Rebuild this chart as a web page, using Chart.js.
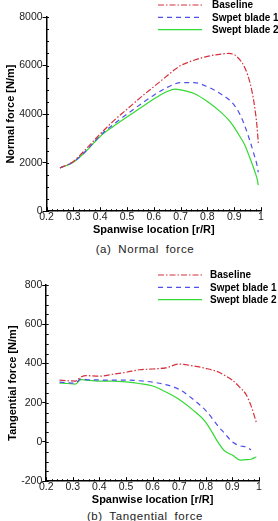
<!DOCTYPE html>
<html>
<head>
<meta charset="utf-8">
<script src="https://cdn.jsdelivr.net/npm/chart.js@4.4.1/dist/chart.umd.min.js"></script>
<style>
  body { margin: 0; background: #fff; width: 278px; height: 521px; overflow: hidden; position: relative; }
  .box { position: absolute; left: 0; width: 278px; }
  .caption { position: absolute; left: 0; width: 290px; text-align: center; font-family: "Liberation Sans", Arial, sans-serif;
             font-size: 11.5px; letter-spacing: 0.6px; word-spacing: 3px; color: #222; }
</style>
</head>
<body>
<div class="box" style="top:0;height:237px"><canvas id="normalChart"></canvas></div>
<div class="caption" style="top:243px">(a) Normal force</div>
<div class="box" style="top:262px;height:245px"><canvas id="tangentialChart"></canvas></div>
<div class="caption" style="top:510px">(b) Tangential force</div>
<script>
// series labels (legend text kept as printed in the figure)
const seriesNames = ['Baseline', 'Swpet blade 1', 'Swept blade 2'];

// (a) normal force [N/m] vs r/R
const normalX = [0.25, 0.3, 0.35, 0.4, 0.45, 0.5, 0.55, 0.6, 0.65, 0.68, 0.7, 0.75, 0.8, 0.85, 0.88, 0.9, 0.92, 0.94, 0.96, 0.975, 0.985, 0.99];
const normalBaseline = [1780, 2050, 2600, 3180, 3720, 4200, 4680, 5130, 5580, 5850, 6000, 6220, 6380, 6470, 6500, 6450, 6250, 5900, 5250, 4400, 3500, 2800];
const normalSwept1 = [1780, 2030, 2520, 3120, 3580, 4000, 4400, 4780, 5100, 5250, 5300, 5300, 5130, 4830, 4600, 4370, 4020, 3500, 2850, 2300, 1900, 1600];
const normalSwept2 = [1780, 2020, 2500, 3080, 3500, 3880, 4250, 4620, 4930, 5030, 5000, 4850, 4520, 4080, 3750, 3450, 3100, 2720, 2150, 1700, 1350, 1070];
const normalYTicks = [0, 2000, 4000, 6000, 8000];

// (b) tangential force [N/m] vs r/R
const tangX = [0.25, 0.28, 0.31, 0.33, 0.35, 0.4, 0.45, 0.5, 0.55, 0.6, 0.65, 0.7, 0.75, 0.8, 0.85, 0.87, 0.9, 0.93, 0.95, 0.97, 0.99];
const tangBaseline = [315, 312, 310, 330, 338, 335, 345, 355, 368, 372, 378, 397, 388, 375, 355, 340, 315, 275, 245, 185, 100];
const tangSwept1 = [305, 302, 300, 322, 318, 316, 315, 315, 312, 305, 292, 268, 220, 160, 75, 45, 0, -20, -25, -40, null];
const tangSwept2 = [300, 298, 295, 318, 315, 310, 310, 306, 298, 285, 255, 217, 165, 100, -10, -45, -67, -93, -90, -88, -75];
const tangYTicks = [-200, 0, 200, 400, 600, 800];

const xTicks = [0.2, 0.3, 0.4, 0.5, 0.6, 0.7, 0.8, 0.9, 1];

const styles = [
    { color: 'rgb(214,48,60)', dash: [6, 2, 1.5, 2] },
    { color: 'rgb(80,80,235)', dash: [5, 4] },
    { color: 'rgb(50,218,50)', dash: [] }
];

function makeSets(xs, seriesList) {
    return seriesList.map((vals, i) => ({
        label: seriesNames[i],
        data: xs.map((x, j) => ({ x: x, y: vals[j] })),
        borderColor: styles[i].color,
        borderDash: styles[i].dash,
        borderWidth: 1.2,
        pointRadius: 0,
        cubicInterpolationMode: 'monotone',
        fill: false
    }));
}

// legend in the upper right corner + minor tick marks
const extras = {
    id: 'extras',
    afterDraw(chart, args, opts) {
        const ctx = chart.ctx;
        const xs = chart.scales.x, ys = chart.scales.y;
        ctx.save();
        ctx.strokeStyle = '#000';
        ctx.lineWidth = 1;
        // x ticks, pointing into the plot
        for (let k = 0; k <= 40; k++) {
            const v = 0.2 + k * 0.02;
            const px = Math.round(xs.getPixelForValue(v)) + 0.5;
            const len = k % 5 === 0 ? 4 : 2;
            ctx.beginPath();
            ctx.moveTo(px, ys.bottom);
            ctx.lineTo(px, ys.bottom - len);
            ctx.stroke();
        }
        // y minor ticks
        for (let v = ys.min; v <= ys.max; v += opts.minorY) {
            const py = Math.round(ys.getPixelForValue(v)) + 0.5;
            ctx.beginPath();
            ctx.moveTo(xs.left, py);
            ctx.lineTo(xs.left + 2.5, py);
            ctx.stroke();
        }
        // legend
        ctx.font = 'bold 10px "Liberation Sans", Arial, sans-serif';
        ctx.textBaseline = 'middle';
        ctx.fillStyle = '#000';
        chart.data.datasets.forEach((ds, i) => {
            const y = opts.legendY + i * 12.3;
            ctx.beginPath();
            ctx.strokeStyle = ds.borderColor;
            ctx.lineWidth = 1.2;
            ctx.setLineDash(ds.borderDash);
            ctx.moveTo(158, y);
            ctx.lineTo(202, y);
            ctx.stroke();
            ctx.setLineDash([]);
            ctx.fillText(ds.label, opts.legendX, y + 0.5);
        });
        ctx.restore();
    }
};

function makeChart(id, xs, seriesList, yTicks, yTitle, minorY, legendY, legendX, pad) {
    const ctx = document.getElementById(id).getContext('2d');
    return new Chart(ctx, {
        type: 'line',
        data: { datasets: makeSets(xs, seriesList) },
        plugins: [extras],
        options: {
            responsive: true,
            maintainAspectRatio: false,
            animation: false,
            layout: { padding: pad },
            plugins: {
                legend: { display: false },
                tooltip: { enabled: false },
                extras: { minorY: minorY, legendY: legendY, legendX: legendX }
            },
            scales: {
                x: {
                    type: 'linear',
                    min: 0.2,
                    max: 1,
                    afterBuildTicks: axis => { axis.ticks = xTicks.map(v => ({ value: v })); },
                    ticks: {
                        autoSkip: false,
                        maxRotation: 0,
                        padding: 0,
                        color: '#222',
                        font: { family: '"Liberation Sans", Arial, sans-serif', size: 10.5 },
                        callback: v => v === 1 ? '1' : v.toFixed(1)
                    },
                    grid: { display: false, drawTicks: false },
                    border: { display: true, color: '#000', width: 1.5 },
                    title: {
                        display: true,
                        text: 'Spanwise location [r/R]',
                        color: '#000',
                        padding: { top: 0, bottom: 0 },
                        font: { family: '"Liberation Sans", Arial, sans-serif', size: 11, weight: 'bold' }
                    }
                },
                y: {
                    min: yTicks[0],
                    max: yTicks[yTicks.length - 1],
                    afterBuildTicks: axis => { axis.ticks = yTicks.map(v => ({ value: v })); },
                    ticks: {
                        padding: 0,
                        color: '#222',
                        font: { family: '"Liberation Sans", Arial, sans-serif', size: 10.5 },
                        callback: v => String(v)
                    },
                    grid: { display: true, drawOnChartArea: false, tickLength: 4, color: '#000', tickWidth: 1 },
                    border: { display: true, color: '#000', width: 1.5 },
                    title: {
                        display: true,
                        text: yTitle,
                        color: '#000',
                        padding: { top: 0, bottom: 2 },
                        font: { family: '"Liberation Sans", Arial, sans-serif', size: 11, weight: 'bold' }
                    }
                }
            }
        }
    });
}

makeChart('normalChart', normalX, [normalBaseline, normalSwept1, normalSwept2], normalYTicks,
    'Normal force [N/m]', 500, 5, 212, { left: 4, right: 17, top: 17, bottom: 0 });
makeChart('tangentialChart', tangX, [tangBaseline, tangSwept1, tangSwept2], tangYTicks,
    'Tangential force [N/m]', 50, 13, 210, { left: 6, right: 19, top: 23, bottom: 0 });
</script>
</body>
</html>
